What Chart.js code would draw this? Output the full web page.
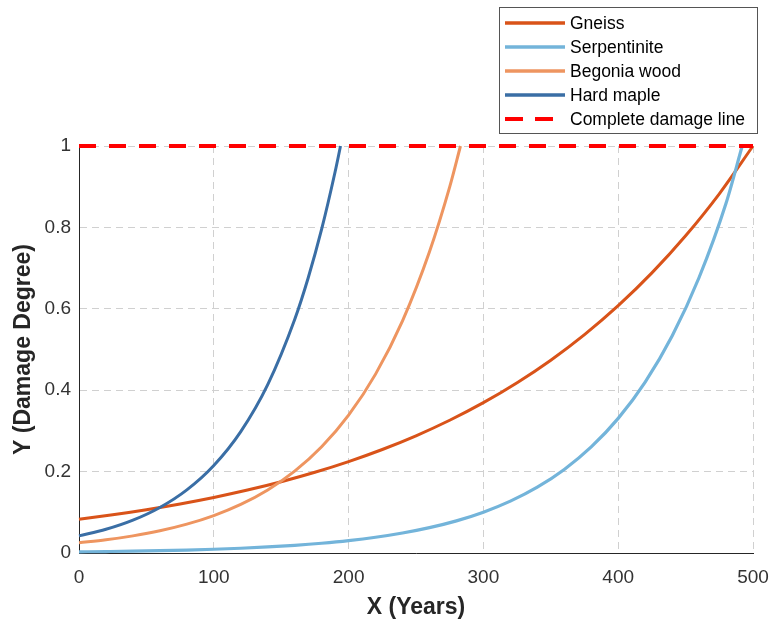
<!DOCTYPE html>
<html><head><meta charset="utf-8">
<script src="https://cdn.jsdelivr.net/npm/chart.js@4/dist/chart.umd.min.js"></script>
<style>html,body{margin:0;padding:0;background:#fff}#wrap{width:770px;height:621px}</style>
</head><body><div id="wrap"><canvas id="c" width="770" height="621"></canvas></div>
<script>
// ---- data ----
const seriesNames = ['Gneiss', 'Serpentinite', 'Begonia wood', 'Hard maple', 'Complete damage line'];

const gneissYears  = [0, 25, 50, 75, 100, 125, 150, 175, 200, 225, 250, 275, 300, 325, 350, 375, 400, 425, 450, 475, 500];
const gneissDamage = [0.083, 0.094, 0.1065, 0.1206, 0.1365, 0.1546, 0.1751, 0.1983, 0.2246, 0.2543, 0.288, 0.3262, 0.3694, 0.4184, 0.4738, 0.5366, 0.6077, 0.6882, 0.7795, 0.8826, 1.0];

const serpYears  = [0, 20, 40, 60, 80, 100, 120, 140, 160, 180, 200, 220, 240, 260, 280, 300, 320, 340, 360, 380, 400, 420, 440, 460, 480, 492];
const serpDamage = [0.0028, 0.0036, 0.0045, 0.0057, 0.0073, 0.0092, 0.0117, 0.0149, 0.0189, 0.024, 0.0304, 0.0386, 0.0491, 0.0623, 0.079, 0.1003, 0.1274, 0.1617, 0.2053, 0.2606, 0.3308, 0.42, 0.5332, 0.6769, 0.8593, 1.0];

const begoniaYears  = [0, 20, 40, 60, 80, 100, 120, 140, 160, 180, 200, 220, 240, 260, 275, 283];
const begoniaDamage = [0.025, 0.0324, 0.0421, 0.0546, 0.0709, 0.092, 0.1194, 0.155, 0.2011, 0.2609, 0.3386, 0.4395, 0.5703, 0.7401, 0.8995, 1.0];

const mapleYears  = [0, 20, 40, 60, 80, 100, 120, 140, 160, 170, 180, 190, 194];
const mapleDamage = [0.042, 0.0582, 0.0807, 0.1119, 0.1552, 0.2152, 0.2984, 0.4138, 0.5738, 0.6757, 0.7956, 0.9367, 1.0];

const damageLineYears  = [0, 500];
const damageLineValues = [1, 1];

const xTickStep = 100;
const yTickStep = 0.2;

// ---- build datasets ----
function pts(xs, ys) { return xs.map((x, i) => ({ x: x, y: ys[i] })); }

const colors = ['#D95319', '#73B4DA', '#EE9560', '#3A6EA5', '#FF0000'];

const datasets = [
  { label: seriesNames[0], data: pts(gneissYears, gneissDamage), borderColor: colors[0], borderWidth: 3, order: 4 },
  { label: seriesNames[1], data: pts(serpYears, serpDamage), borderColor: colors[1], borderWidth: 3.2, order: 3 },
  { label: seriesNames[2], data: pts(begoniaYears, begoniaDamage), borderColor: colors[2], borderWidth: 3, order: 2 },
  { label: seriesNames[3], data: pts(mapleYears, mapleDamage), borderColor: colors[3], borderWidth: 3, order: 1 },
  { label: seriesNames[4], data: pts(damageLineYears, damageLineValues), borderColor: colors[4], borderWidth: 4, borderDash: [17, 13], order: 0 }
];
datasets.forEach(d => { d.pointRadius = 0; d.fill = false; d.cubicInterpolationMode = 'monotone'; d.clip = false; d.backgroundColor = d.borderColor; });

const legendPlugin = {
  id: 'boxLegend',
  afterDraw(chart) {
    const ctx = chart.ctx;
    ctx.save();
    ctx.fillStyle = '#ffffff';
    ctx.fillRect(499.5, 7.5, 258, 126);
    ctx.strokeStyle = '#555555';
    ctx.lineWidth = 1;
    ctx.strokeRect(499.5, 7.5, 258, 126);
    chart.data.datasets.forEach((ds, i) => {
      const y = 23 + 24 * i;
      ctx.beginPath();
      ctx.setLineDash(ds.borderDash ? [18, 12] : []);
      ctx.strokeStyle = ds.borderColor;
      ctx.lineWidth = ds.borderDash ? 4 : 3.5;
      ctx.moveTo(505, y);
      ctx.lineTo(565, y);
      ctx.stroke();
      ctx.setLineDash([]);
      ctx.fillStyle = '#000000';
      ctx.font = '17.5px "Liberation Sans", Arial, sans-serif';
      ctx.textBaseline = 'middle';
      ctx.textAlign = 'left';
      ctx.fillText(ds.label, 570, y + 1);
    });
    ctx.restore();
  }
};

const tickFont = { family: '"Liberation Sans", Arial, sans-serif', size: 19 };
const titleFont = { family: '"Liberation Sans", Arial, sans-serif', size: 23, weight: 'bold' };

new Chart(document.getElementById('c'), {
  type: 'line',
  data: { datasets: datasets },
  options: {
    responsive: false,
    animation: false,
    layout: { padding: { left: 0, top: 146, right: 17, bottom: 0 } },
    plugins: { legend: { display: false }, tooltip: { enabled: false } },
    scales: {
      x: {
        type: 'linear', min: 0, max: 500,
        ticks: { stepSize: xTickStep, padding: 13, color: '#333333', font: tickFont, maxRotation: 0 },
        grid: { color: '#d0d0d0', drawTicks: false, lineWidth: 1 },
        border: { display: true, color: '#262626', width: 1, dash: [7, 5] },
        title: { display: true, text: 'X (Years)', color: '#262626', font: titleFont, padding: { top: 0, bottom: 0 } },
        afterFit(s) { s.height = 68; s.paddingLeft = 0; s.paddingRight = 0; }
      },
      y: {
        type: 'linear', min: 0, max: 1,
        ticks: { stepSize: yTickStep, padding: 8, color: '#333333', font: tickFont,
          callback: v => String(Number(v.toFixed(1))) },
        grid: { color: '#d0d0d0', drawTicks: false, lineWidth: 1 },
        border: { display: true, color: '#262626', width: 1, dash: [7, 5] },
        title: { display: true, text: 'Y (Damage Degree)', color: '#262626', font: titleFont, padding: { top: 10, bottom: 0 } },
        afterFit(s) { s.width = 79; s.paddingTop = 0; s.paddingBottom = 0; }
      }
    }
  },
  plugins: [legendPlugin]
});
</script>
</body></html>
